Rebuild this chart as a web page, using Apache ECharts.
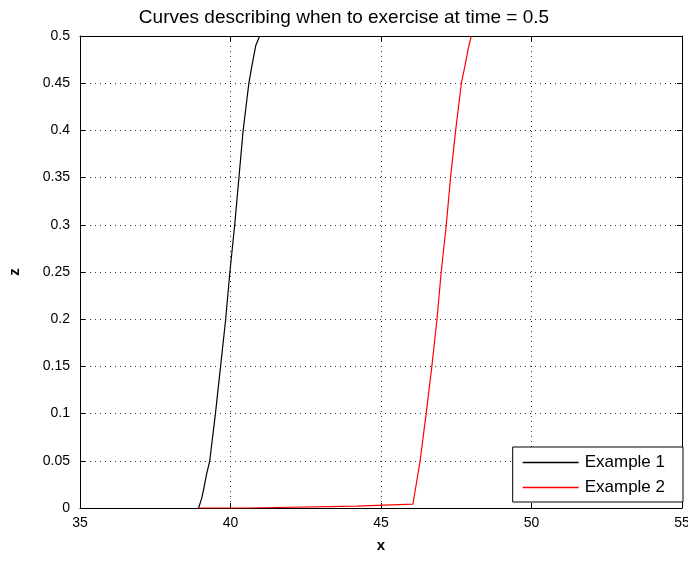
<!DOCTYPE html>
<html>
<head>
<meta charset="utf-8">
<script src="https://cdn.jsdelivr.net/npm/echarts@6/dist/echarts.min.js"></script>
<style>
  html, body { margin: 0; padding: 0; background: #fff; }
  #main { width: 688px; height: 563px; }
</style>
</head>
<body>
<div id="main"></div>
<script>
// values
let ex1X = [38.94, 39.04, 39.11, 39.2, 39.31, 39.5, 39.67, 39.84, 39.98, 40.14, 40.28, 40.42, 40.61, 40.72, 40.84, 40.97];
let ex1Z = [0, 0.01, 0.02, 0.035, 0.05, 0.1, 0.15, 0.2, 0.25, 0.3, 0.35, 0.4, 0.45, 0.47, 0.49, 0.5];
let ex2X = [38.9, 40.6, 40.65, 44.2, 44.25, 46.06, 46.3, 46.5, 46.69, 46.86, 47.0, 47.17, 47.31, 47.48, 47.67, 47.8, 47.9, 48.0];
let ex2Z = [0, 0, 0.002, 0.002, 0.004, 0.004, 0.05, 0.1, 0.15, 0.2, 0.25, 0.3, 0.35, 0.4, 0.45, 0.47, 0.487, 0.5];
let names = ['Example 1', 'Example 2'];
let colors = ['#000000', '#ff0000'];

function pairs(xs, ys) {
    return xs.map(function (x, i) { return [x, ys[i]]; });
}

window.addEventListener('load', function () {
    let chart = echarts.init(document.getElementById('main'));
    let font = 'Liberation Sans, Arial, sans-serif';
    let grid = {show: true, lineStyle: {color: '#333', type: [1, 4], width: 1}};
    let option = {
        animation: false,
        textStyle: {fontFamily: font},
        title: {
            text: 'Curves describing when to exercise at time = 0.5',
            left: 'center',
            top: 3,
            textStyle: {fontSize: 19, fontWeight: 'normal', color: '#000', fontFamily: font}
        },
        grid: {left: 80, right: 6, top: 36, bottom: 55, outerBoundsMode: 'none', containLabel: false},
        legend: {
            data: names,
            orient: 'vertical',
            right: 5,
            bottom: 61,
            backgroundColor: '#fff',
            borderColor: '#000',
            borderWidth: 1,
            borderRadius: 0,
            padding: [7, 18, 6, 10],
            itemGap: 8,
            itemWidth: 56,
            itemHeight: 1.5,
            icon: 'rect',
            textStyle: {fontSize: 17, color: '#000', fontFamily: font, padding: [0, 0, 0, 1]}
        },
        xAxis: [{
            type: 'value', min: 35, max: 55, interval: 5,
            name: 'x', nameLocation: 'middle', nameGap: 30,
            nameTextStyle: {fontSize: 15, color: '#000', fontWeight: 'bold'},
            axisLine: {lineStyle: {color: '#000'}},
            axisTick: {inside: true, length: 5, lineStyle: {color: '#000'}},
            axisLabel: {fontSize: 14, color: '#000', margin: 8},
            splitLine: grid
        }, {
            type: 'value', min: 35, max: 55, interval: 5, position: 'top',
            axisLine: {show: true, onZero: false, lineStyle: {color: '#000'}},
            axisTick: {inside: true, length: 5, lineStyle: {color: '#000'}},
            axisLabel: {show: false}, splitLine: {show: false}
        }],
        yAxis: [{
            type: 'value', min: 0, max: 0.5, interval: 0.05,
            name: 'z', nameLocation: 'middle', nameGap: 58,
            nameTextStyle: {fontSize: 15, color: '#000', fontWeight: 'bold'},
            axisLine: {show: true, lineStyle: {color: '#000'}},
            axisTick: {show: true, inside: true, length: 5, lineStyle: {color: '#000'}},
            axisLabel: {fontSize: 14, color: '#000', margin: 10},
            splitLine: grid
        }, {
            type: 'value', min: 0, max: 0.5, interval: 0.05, position: 'right',
            axisLine: {show: true, onZero: false, lineStyle: {color: '#000'}},
            axisTick: {show: true, inside: true, length: 5, lineStyle: {color: '#000'}},
            axisLabel: {show: false}, splitLine: {show: false}
        }],
        series: [{
            name: names[0], type: 'line', showSymbol: false,
            color: colors[0], lineStyle: {width: 1.2},
            data: pairs(ex1X, ex1Z)
        }, {
            name: names[1], type: 'line', showSymbol: false,
            color: colors[1], lineStyle: {width: 1.2},
            data: pairs(ex2X, ex2Z)
        }]
    };
    chart.setOption(option);
}, false);
</script>
</body>
</html>
